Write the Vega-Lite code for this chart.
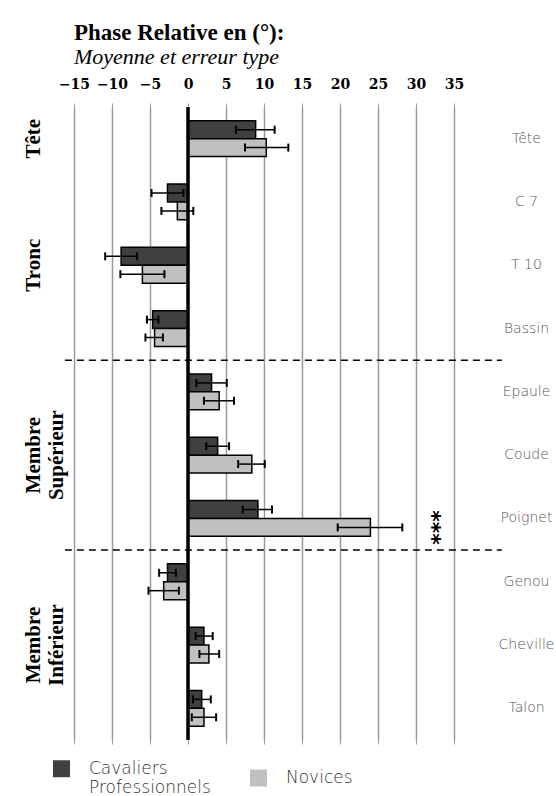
{
  "$schema": "https://vega.github.io/schema/vega-lite/v6.json",
  "width": 380,
  "height": 633,
  "autosize": {"type": "none"},
  "padding": {"left": 74, "top": 107, "right": 102, "bottom": 56},
  "background": "white",
  "config": {"view": {"stroke": null}},
  "title": {
    "text": "Phase Relative en (°):",
    "subtitle": "Moyenne et erreur type",
    "anchor": "start",
    "frame": "group",
    "font": "Liberation Serif",
    "fontSize": 23,
    "fontWeight": "bold",
    "color": "#000",
    "subtitleFont": "Liberation Serif",
    "subtitleFontSize": 22,
    "subtitleFontStyle": "italic",
    "subtitleColor": "#000",
    "subtitlePadding": 2,
    "offset": 9
  },
  "datasets": {
    "bars": [
      {"segment": "Tête", "groupe": "Cavaliers Professionnels", "moyenne": 8.9, "bas": 6.3, "haut": 11.4},
      {"segment": "Tête", "groupe": "Novices", "moyenne": 10.3, "bas": 7.5, "haut": 13.2},
      {"segment": "C 7", "groupe": "Cavaliers Professionnels", "moyenne": -2.7, "bas": -4.8, "haut": -0.6},
      {"segment": "C 7", "groupe": "Novices", "moyenne": -1.4, "bas": -3.5, "haut": 0.7},
      {"segment": "T 10", "groupe": "Cavaliers Professionnels", "moyenne": -8.8, "bas": -10.9, "haut": -6.7},
      {"segment": "T 10", "groupe": "Novices", "moyenne": -6.0, "bas": -8.9, "haut": -3.1},
      {"segment": "Bassin", "groupe": "Cavaliers Professionnels", "moyenne": -4.65, "bas": -5.4, "haut": -3.9},
      {"segment": "Bassin", "groupe": "Novices", "moyenne": -4.4, "bas": -5.6, "haut": -3.3},
      {"segment": "Epaule", "groupe": "Cavaliers Professionnels", "moyenne": 3.1, "bas": 1.1, "haut": 5.1},
      {"segment": "Epaule", "groupe": "Novices", "moyenne": 4.1, "bas": 2.1, "haut": 6.05},
      {"segment": "Coude", "groupe": "Cavaliers Professionnels", "moyenne": 3.9, "bas": 2.4, "haut": 5.4},
      {"segment": "Coude", "groupe": "Novices", "moyenne": 8.4, "bas": 6.6, "haut": 10.1},
      {"segment": "Poignet", "groupe": "Cavaliers Professionnels", "moyenne": 9.2, "bas": 7.2, "haut": 11.05},
      {"segment": "Poignet", "groupe": "Novices", "moyenne": 24.0, "bas": 19.7, "haut": 28.2},
      {"segment": "Genou", "groupe": "Cavaliers Professionnels", "moyenne": -2.7, "bas": -3.8, "haut": -1.6},
      {"segment": "Genou", "groupe": "Novices", "moyenne": -3.2, "bas": -5.2, "haut": -1.2},
      {"segment": "Cheville", "groupe": "Cavaliers Professionnels", "moyenne": 2.1, "bas": 1.0, "haut": 3.25},
      {"segment": "Cheville", "groupe": "Novices", "moyenne": 2.75, "bas": 1.5, "haut": 4.1},
      {"segment": "Talon", "groupe": "Cavaliers Professionnels", "moyenne": 1.8, "bas": 0.65, "haut": 3.0},
      {"segment": "Talon", "groupe": "Novices", "moyenne": 2.1, "bas": 0.5, "haut": 3.7}
    ],
    "regions": [
      {"segment": "Tête", "label": "Tête"},
      {"segment": "T 10", "label": "Tronc"},
      {"segment": "Coude", "label": "Membre\nSupérieur"},
      {"segment": "Cheville", "label": "Membre\nInférieur"}
    ],
    "separateurs": [
      {"segment": "Bassin"},
      {"segment": "Poignet"}
    ],
    "signif": [
      {"segment": "Poignet", "groupe": "Novices", "label": "***"}
    ]
  },
  "resolve": {"axis": {"x": "independent"}},
  "layer": [
    {
      "data": {"name": "bars"},
      "mark": {"type": "bar", "stroke": "#000", "strokeWidth": 1.5},
      "encoding": {
        "x": {
          "field": "moyenne",
          "type": "quantitative",
          "scale": {"domain": [-15, 35], "nice": false, "zero": false},
          "axis": {
            "orient": "top",
            "title": null,
            "values": [-15, -10, -5, 0, 5, 10, 15, 20, 25, 30, 35],
            "domain": false,
            "grid": true,
            "gridColor": "#9a9a9a",
            "gridWidth": 1.5,
            "tickColor": "#9a9a9a",
            "tickSize": 4,
            "labelPadding": 12,
            "labelFont": "DejaVu Serif",
            "labelFontSize": 14,
            "labelFontWeight": "bold",
            "labelColor": "#000",
            "labelFlush": false
          }
        },
        "y": {
          "field": "segment",
          "type": "nominal",
          "scale": {
            "domain": ["Tête", "C 7", "T 10", "Bassin", "Epaule", "Coude", "Poignet", "Genou", "Cheville", "Talon"],
            "paddingInner": 0,
            "paddingOuter": 0
          },
          "axis": {
            "orient": "right",
            "title": null,
            "domain": false,
            "ticks": false,
            "grid": false,
            "labelAlign": "center",
            "labelPadding": 72,
            "labelFont": "DejaVu Sans",
            "labelFontSize": 14,
            "labelFontWeight": 200,
            "labelColor": "#555"
          }
        },
        "yOffset": {
          "field": "groupe",
          "type": "nominal",
          "scale": {"domain": ["Cavaliers Professionnels", "Novices"], "paddingOuter": 0.77, "paddingInner": 0}
        },
        "color": {
          "field": "groupe",
          "type": "nominal",
          "scale": {"domain": ["Cavaliers Professionnels", "Novices"], "range": ["#404040", "#c0c0c0"]},
          "legend": {
            "orient": "none",
            "legendX": -21,
            "legendY": 653,
            "direction": "horizontal",
            "columns": 2,
            "title": null,
            "padding": 0,
            "symbolType": "square",
            "symbolSize": 289,
            "symbolStrokeWidth": 0,
            "symbolOpacity": 1,
            "labelOffset": 19,
            "columnPadding": 39,
            "labelFont": "DejaVu Sans",
            "labelFontSize": 17,
            "labelFontWeight": 200,
            "labelColor": "#333",
            "labelLimit": 300,
            "labelExpr": "datum.label == 'Cavaliers Professionnels' ? ['Cavaliers', 'Professionnels'] : datum.label"
          }
        }
      }
    },
    {
      "data": {"name": "bars"},
      "mark": {"type": "rule", "stroke": "#000", "strokeWidth": 1.5},
      "encoding": {
        "x": {"field": "bas", "type": "quantitative", "axis": null},
        "x2": {"field": "haut"},
        "y": {"field": "segment", "type": "nominal"},
        "yOffset": {"field": "groupe", "type": "nominal"}
      }
    },
    {
      "data": {"name": "bars"},
      "mark": {"type": "tick", "color": "#000", "size": 8, "thickness": 2, "orient": "vertical", "opacity": 1},
      "encoding": {
        "x": {"field": "bas", "type": "quantitative", "axis": null},
        "y": {"field": "segment", "type": "nominal"},
        "yOffset": {"field": "groupe", "type": "nominal"}
      }
    },
    {
      "data": {"name": "bars"},
      "mark": {"type": "tick", "color": "#000", "size": 8, "thickness": 2, "orient": "vertical", "opacity": 1},
      "encoding": {
        "x": {"field": "haut", "type": "quantitative", "axis": null},
        "y": {"field": "segment", "type": "nominal"},
        "yOffset": {"field": "groupe", "type": "nominal"}
      }
    },
    {
      "data": {"values": [{}]},
      "mark": {"type": "rule", "stroke": "#000", "strokeWidth": 3.5},
      "encoding": {
        "x": {
          "datum": 0,
          "type": "quantitative",
          "axis": {
            "orient": "bottom",
            "title": null,
            "values": [-15, -10, -5, 0, 5, 10, 15, 20, 25, 30, 35],
            "labels": false,
            "domain": false,
            "grid": false,
            "tickColor": "#9a9a9a",
            "tickSize": 4
          }
        }
      }
    },
    {
      "data": {"name": "separateurs"},
      "mark": {"type": "rule", "stroke": "#000", "strokeWidth": 1.5, "strokeDash": [7, 5]},
      "encoding": {
        "x": {"datum": -16.2, "type": "quantitative", "axis": null},
        "x2": {"datum": 41.3},
        "y": {"field": "segment", "type": "nominal", "bandPosition": 1}
      }
    },
    {
      "data": {"name": "regions"},
      "mark": {
        "type": "text",
        "angle": 270,
        "align": "center",
        "baseline": "middle",
        "font": "Liberation Serif",
        "fontSize": 21,
        "fontWeight": "bold",
        "color": "#000",
        "lineBreak": "\n",
        "lineHeight": 23
      },
      "encoding": {
        "x": {"datum": -20.2, "type": "quantitative", "axis": null},
        "y": {"field": "segment", "type": "nominal"},
        "text": {"field": "label"}
      }
    },
    {
      "data": {"name": "signif"},
      "mark": {
        "type": "text",
        "angle": 90,
        "align": "center",
        "baseline": "middle",
        "font": "DejaVu Sans",
        "fontSize": 22,
        "fontWeight": "bold",
        "color": "#000"
      },
      "encoding": {
        "x": {"datum": 32.1, "type": "quantitative", "axis": null},
        "y": {"field": "segment", "type": "nominal"},
        "yOffset": {"field": "groupe", "type": "nominal"},
        "text": {"field": "label"}
      }
    }
  ]
}
